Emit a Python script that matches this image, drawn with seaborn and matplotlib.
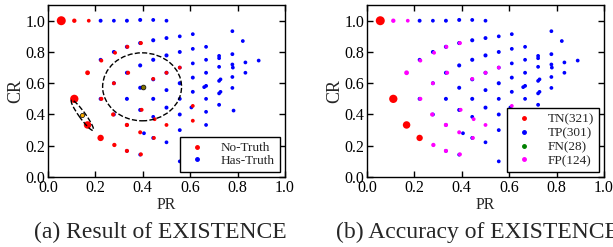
import pandas as pd
import matplotlib.pyplot as plt
import seaborn as sns
from matplotlib.patches import Ellipse
from matplotlib.lines import Line2D

# cluster centres (PR, CR), outcome class and number of points in each cluster
pr = [0.056, 0.111, 0.172,
      0.056, 0.111, 0.167, 0.222, 0.611,
      0.222, 0.278, 0.333, 0.389, 0.444, 0.500,
      0.222, 0.278, 0.333, 0.389, 0.444, 0.500, 0.556, 0.611, 0.778, 0.822,
      0.889, 0.833, 0.833, 0.778, 0.780, 0.778, 0.778, 0.778, 0.783,
      0.722, 0.722, 0.722, 0.722, 0.728, 0.722, 0.728, 0.722,
      0.667, 0.667, 0.667, 0.667, 0.659, 0.667, 0.667, 0.667,
      0.611, 0.611, 0.611, 0.611, 0.605,
      0.556, 0.556, 0.556, 0.556, 0.556, 0.556, 0.556,
      0.500, 0.500, 0.500, 0.500, 0.500,
      0.444, 0.444, 0.444, 0.444, 0.444,
      0.389, 0.389, 0.389, 0.405, 0.389,
      0.333, 0.333, 0.333, 0.333, 0.278, 0.278, 0.222,
      0.111, 0.172, 0.167, 0.225, 0.225, 0.283, 0.278, 0.275, 0.280,
      0.335, 0.338, 0.333, 0.333, 0.392, 0.395, 0.389, 0.392, 0.450,
      0.447, 0.500, 0.500, 0.556, 0.611, 0.444]
cr = [1.000, 0.500, 0.330,
      1.000, 0.500, 0.333, 0.250, 0.360,
      1.000, 1.000, 1.000, 1.005, 1.005, 1.000,
      0.750, 0.800, 0.833, 0.857, 0.875, 0.889, 0.900, 0.914, 0.933, 0.870,
      0.745, 0.733, 0.667, 0.720, 0.700, 0.786, 0.640, 0.570, 0.425,
      0.775, 0.760, 0.705, 0.615, 0.625, 0.535, 0.545, 0.462,
      0.833, 0.750, 0.667, 0.583, 0.575, 0.500, 0.417, 0.333,
      0.820, 0.727, 0.636, 0.545, 0.445,
      0.800, 0.700, 0.600, 0.500, 0.400, 0.300, 0.100,
      0.778, 0.667, 0.556, 0.444, 0.222,
      0.750, 0.625, 0.500, 0.385, 0.250,
      0.714, 0.571, 0.429, 0.280, 0.143,
      0.667, 0.500, 0.333, 0.167, 0.600, 0.400, 0.500,
      1.000, 1.000, 0.667, 0.745, 0.500, 0.795, 0.600, 0.400, 0.205,
      0.833, 0.667, 0.333, 0.167, 0.857, 0.430, 0.286, 0.145, 0.370,
      0.250, 0.667, 0.333, 0.700, 0.455, 0.628]
outcome = (["FN"] * 3 + ["TN"] * 5 + ["TP"] * 75 + ["FP"] * 24)
count = [20, 3, 5,
         110, 90, 70, 45, 3,
         4, 2, 4, 5, 3, 2,
         3, 5, 6, 6, 6, 4, 2, 2, 2, 2,
         2, 2, 2, 2, 2, 3, 2, 2, 2,
         2, 2, 2, 2, 1, 2, 1, 3,
         2, 2, 3, 3, 2, 2, 2, 2,
         2, 2, 4, 3, 2,
         4, 2, 6, 3, 4, 3, 2,
         6, 5, 4, 5, 2,
         6, 5, 5, 2, 3,
         6, 5, 5, 2, 2,
         5, 5, 2, 2, 4, 3, 4,
         10, 2, 16, 4, 6, 3, 4, 8, 9,
         4, 6, 8, 7, 5, 4, 5, 5, 3,
         3, 3, 3, 2, 2, 2]

legend_counts = {"TN": 321, "TP": 301, "FN": 28, "FP": 124}
truth = {"TN": "No-Truth", "FP": "No-Truth", "TP": "Has-Truth", "FN": "Has-Truth"}

# centroids of the two highlighted groups
centre_pr = [0.400, 0.142]
centre_cr = [0.577, 0.396]

df = pd.DataFrame({"PR": pr, "CR": cr, "outcome": outcome, "n": count})
df["truth"] = df["outcome"].map(truth)

sns.set_style("ticks")
plt.rcParams["font.family"] = ["Liberation Serif", "DejaVu Serif"]

fig = plt.figure(figsize=(6.13, 2.47), dpi=100)
ax1 = fig.add_axes([0.0783, 0.2834, 0.3866, 0.696])
ax2 = fig.add_axes([0.5987, 0.2834, 0.3866, 0.696])

pal_a = {"No-Truth": "#ff0000", "Has-Truth": "#0000ff"}
pal_b = {"TN": "#ff0000", "TP": "#0000ff", "FN": "#008000", "FP": "#ff00ff"}

sns.scatterplot(data=df, x="PR", y="CR", hue="truth", palette=pal_a,
                size="n", sizes=(7, 42), size_norm=(1, 110),
                linewidth=0, legend=False, ax=ax1)
sns.scatterplot(data=df, x="PR", y="CR", hue="outcome", palette=pal_b,
                size="n", sizes=(7, 42), size_norm=(1, 110),
                linewidth=0, legend=False, ax=ax2)

ax1.add_patch(Ellipse((0.397, 0.577), 0.333, 0.435, fill=False,
                      ls="--", lw=1, ec="black"))
ax1.add_patch(Ellipse((0.145, 0.395), 0.214, 0.03, angle=-65, fill=False,
                      ls="--", lw=1, ec="black"))
ax1.scatter(centre_pr[:1], centre_cr[:1], s=12, c="#807000", ec="black", lw=0.5, zorder=5)
ax1.scatter(centre_pr[1:], centre_cr[1:], s=9, c="#ffb000", ec="black", lw=0.5, zorder=5)

def dot(color):
    return Line2D([], [], ls="", marker="o", ms=2.5, mfc=color, mec=color)

ax1.legend([dot(pal_a[k]) for k in pal_a], list(pal_a), loc="lower right",
           fontsize=9.5, frameon=True, fancybox=False, edgecolor="black",
           framealpha=1, borderaxespad=0.35, handlelength=1.8, handletextpad=0.9,
           labelspacing=0.05, borderpad=0.4)
ax2.legend([dot(pal_b[k]) for k in legend_counts],
           [f"{k}({v})" for k, v in legend_counts.items()], loc="lower right",
           fontsize=9.5, frameon=True, fancybox=False, edgecolor="black",
           framealpha=1, borderaxespad=0.35, handlelength=1.8, handletextpad=0.9,
           labelspacing=0.12, borderpad=0.4)

for ax in (ax1, ax2):
    ax.set_xlim(0, 1.0)
    ax.set_ylim(0, 1.1)
    ax.set_xticks([0, 0.2, 0.4, 0.6, 0.8, 1.0])
    ax.set_yticks([0, 0.2, 0.4, 0.6, 0.8, 1.0])
    ax.tick_params(direction="in", top=True, right=True, length=4, width=1,
                   labelsize=11.5, pad=2, colors="black")
    for s in ax.spines.values():
        s.set_linewidth(1)
        s.set_color("black")
    ax.set_xlabel("PR", fontsize=11.5, labelpad=1)
    ax.set_ylabel("CR", fontsize=13, labelpad=1)

fig.text(0.262, 0.06, "(a) Result of EXISTENCE", ha="center", va="center", fontsize=17)
fig.text(0.548, 0.06, "(b) Accuracy of EXISTENCE", ha="left", va="center", fontsize=17)

fig.savefig("out.png", dpi=100)
